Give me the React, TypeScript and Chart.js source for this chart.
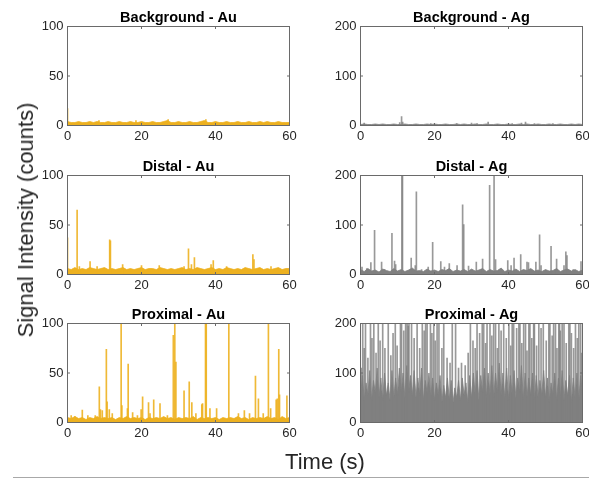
import React, { useEffect, useRef } from "react";
import { Chart, registerables } from "chart.js";

Chart.register(...registerables);

// ---------- data ----------
const timeTicks = [0, 20, 40, 60];
const auTicks = [0, 50, 100];
const agTicks = [0, 100, 200];

// baseline noise envelopes (one value per band step, starting at t = 0)
const bgAuBand = [4, 3, 3, 4, 3, 3, 4, 3, 4, 3, 3, 4, 3, 3, 4, 3, 3, 4, 3, 3, 4, 3, 3, 4, 3, 3, 4, 5, 3, 3, 4, 3, 3, 4, 3, 3, 4, 5, 3, 3, 4, 3, 3, 4, 3, 3, 4, 3, 3, 4, 3, 3, 4, 3, 4, 3, 3, 4, 3, 3, 3];
const bgAgBand = [2, 3, 2, 2, 3, 2, 3, 2, 2, 3, 2, 2, 3, 2, 2, 3, 2, 2, 3, 2, 3, 2, 2, 3, 2, 2, 3, 2, 3, 2, 2, 3, 2, 2, 3, 2, 2, 3, 2, 2, 3, 2, 2, 3, 2, 3, 2, 2, 3, 2, 2, 3, 2, 2, 3, 2, 2, 3, 2, 3, 2];
const distalAuBand = [6, 5, 7, 5, 6, 5, 7, 6, 5, 6, 7, 5, 6, 5, 6, 7, 5, 6, 5, 6, 7, 5, 6, 6, 5, 7, 6, 5, 6, 5, 6, 7, 5, 6, 5, 7, 6, 5, 6, 7, 5, 6, 5, 7, 6, 5, 6, 5, 7, 6, 5, 6, 7, 5, 6, 5, 6, 7, 5, 6, 6];
const distalAgBand = [10, 6, 12, 7, 9, 5, 11, 8, 6, 12, 7, 10, 6, 9, 13, 7, 8, 6, 11, 7, 9, 6, 10, 8, 12, 6, 9, 7, 10, 6, 11, 7, 9, 12, 6, 10, 7, 8, 13, 6, 9, 7, 11, 6, 10, 8, 12, 7, 9, 6, 10, 7, 8, 12, 6, 9, 11, 7, 10, 6, 9];
const proxAuBand = [5, 4, 6, 4, 5, 3, 5, 4, 6, 4, 5, 4, 5, 3, 5, 4, 6, 4, 5, 4, 5, 3, 5, 4, 5, 4, 6, 4, 5, 3, 5, 4, 5, 4, 6, 3, 5, 4, 5, 4, 5, 3, 5, 4, 5, 4, 6, 4, 5, 3, 5, 4, 5, 4, 6, 4, 5, 3, 6, 4, 5];
const proxAgBand = [
  50, 95, 45, 80, 55, 105, 45, 85, 60, 110,
  50, 90, 45, 100, 55, 80, 45, 105, 50, 90,
  55, 110, 60, 100, 50, 115, 60, 95, 55, 105,
  50, 90, 55, 110, 45, 85, 60, 100, 50, 90,
  45, 80, 55, 95, 40, 75, 50, 90, 45, 85,
  40, 70, 50, 85, 45, 90, 55, 80, 40, 95,
  50, 100, 55, 105, 45, 95, 60, 110, 50, 100,
  55, 115, 50, 100, 60, 120, 55, 100, 50, 110,
  45, 95, 55, 105, 50, 90, 60, 115, 45, 100,
  50, 90, 55, 100, 45, 95, 50, 85, 55, 105,
  50, 90, 40, 80, 55, 100, 45, 90, 50, 105,
  45, 85, 55, 95, 40, 90, 50, 100, 45, 95,
  55,
];

// spikes: [time (s), counts]
const bgAuSpikes = [[0, 17], [8.5, 5], [18.5, 5], [27.2, 6], [37.4, 6]];
const bgAgSpikes = [[1.0, 5], [10.6, 6], [11.1, 18], [11.4, 7], [19.0, 4], [26.0, 4], [30.0, 5], [31.5, 4], [34.5, 7], [41.0, 4], [43.5, 5], [44.6, 7], [47.0, 4], [52.0, 4]];
const distalAuSpikes = [[0, 37], [2.6, 65], [3.2, 8], [6.1, 13], [8.0, 8], [11.4, 35], [11.6, 34], [14.9, 10], [20.0, 9], [24.8, 9], [31.5, 8], [32.7, 26], [33.5, 10], [34.3, 17], [38.8, 10], [39.4, 14], [43.0, 8], [50.1, 20], [50.4, 15], [55.0, 8]];
const distalAgSpikes = [
  [0.4, 15], [1.7, 12], [2.8, 24], [3.8, 89], [5.7, 25], [6.5, 10], [8.5, 83], [9.2, 27], [9.5, 20],
  [11.2, 200], [11.35, 200], [13.7, 33], [14.8, 18], [15.1, 167], [16.5, 10], [18.3, 15], [19.5, 65],
  [21.7, 26], [22.7, 15], [24.0, 22], [26.1, 18], [27.6, 141], [27.9, 101], [29.2, 17], [31.3, 25],
  [33.0, 31], [34.9, 180], [36.1, 200], [36.5, 30], [39.8, 28], [40.7, 18], [41.5, 33], [43.3, 40],
  [45.0, 25], [45.4, 24], [47.4, 25], [48.4, 80], [48.8, 18], [51.5, 57], [53.0, 31], [55.0, 18],
  [55.5, 46], [55.8, 38], [57.5, 10], [59.6, 26],
];
const proxAuSpikes = [
  [1.0, 7], [2.0, 6], [4.0, 12.5], [5.5, 7], [7.5, 7], [8.6, 36], [8.9, 13], [9.4, 12], [10.5, 74],
  [10.7, 21], [11.3, 13], [12.1, 9], [14.5, 100], [14.7, 17], [16.2, 14], [16.4, 59], [17.6, 10],
  [18.9, 7], [19.9, 13], [20.3, 26], [21.9, 20], [22.3, 9], [23.3, 23], [25.0, 19], [27.0, 7],
  [28.6, 88], [29.0, 100], [29.3, 61], [31.5, 32], [32.9, 41], [33.6, 20], [34.7, 9], [36.3, 18],
  [36.5, 19], [37.3, 100], [37.5, 100], [38.5, 14], [40.3, 14], [43.6, 100], [46.2, 9], [47.8, 12],
  [49.2, 9], [50.8, 47], [51.6, 24], [52.9, 9], [54.3, 100], [54.9, 14], [56.4, 23], [56.7, 24],
  [57.1, 74], [57.3, 28], [59.3, 27],
];
const proxAgSpikes = [
  [0.6, 200], [1.35, 200], [2.7, 200], [3.6, 200], [4.8, 200], [6.0, 200], [7.5, 200], [9.4, 200],
  [10.8, 200], [11.1, 200], [12.2, 200], [12.6, 200], [13.1, 200], [13.8, 200], [15.3, 200], [16.7, 200],
  [17.6, 200], [18.0, 200], [18.9, 200], [19.8, 200], [20.7, 200], [21.2, 200], [22.5, 200], [24.8, 200],
  [25.7, 200], [29.7, 200], [31.5, 200], [32.9, 200], [33.3, 200], [34.2, 200], [35.0, 200], [36.0, 200],
  [36.5, 200], [37.4, 200], [38.7, 200], [40.1, 200], [41.0, 200], [41.4, 200], [42.8, 200], [43.1, 200],
  [44.1, 200], [44.6, 200], [45.5, 200], [45.8, 200], [46.8, 200], [47.0, 200], [48.2, 200], [49.4, 200],
  [50.9, 200], [51.2, 200], [52.2, 200], [52.7, 200], [53.6, 200], [53.8, 200], [54.5, 200], [55.0, 200],
  [56.3, 200], [56.6, 200], [58.1, 200], [59.0, 200], [59.5, 200],
  [0.2, 110], [1.0, 150], [2.0, 130], [3.1, 170], [4.2, 140], [5.3, 165], [6.6, 150], [8.2, 135],
  [8.8, 180], [9.9, 155], [11.7, 185], [12.9, 195], [14.5, 170], [16.0, 150], [17.2, 185], [19.3, 180],
  [20.2, 165], [22.0, 150], [23.4, 130], [24.2, 120], [26.5, 110], [27.3, 120], [28.3, 115], [29.1, 140],
  [30.4, 165], [31.0, 150], [32.2, 180], [33.8, 160], [35.5, 175], [37.0, 150], [38.0, 185], [39.4, 170],
  [40.6, 155], [42.2, 190], [43.6, 160], [45.0, 145], [46.3, 170], [47.6, 155], [48.8, 190], [50.2, 165],
  [51.8, 175], [53.1, 150], [54.0, 185], [55.6, 160], [57.0, 180], [57.6, 150], [58.6, 170], [59.8, 140],
];

// ---------- styles ----------
const AU = "#EDB120";
const AG = "#808080";
const AU_SPIKE = "rgba(237,177,32,0.9)";
const AG_SPIKE = "rgba(128,128,128,0.8)";
const FONT = '"Liberation Sans", Arial, Helvetica, sans-serif';
const TEXT = "#262626";

const panels = [
  { title: "Background - Au", band: bgAuBand, step: 1, spikes: bgAuSpikes, yMax: 100, yTicks: auTicks, color: AU, spikeColor: AU_SPIKE, left: 0, top: 0 },
  { title: "Background - Ag", band: bgAgBand, step: 1, spikes: bgAgSpikes, yMax: 200, yTicks: agTicks, color: AG, spikeColor: AG_SPIKE, left: 293, top: 0 },
  { title: "Distal - Au", band: distalAuBand, step: 1, spikes: distalAuSpikes, yMax: 100, yTicks: auTicks, color: AU, spikeColor: AU_SPIKE, left: 0, top: 149 },
  { title: "Distal - Ag", band: distalAgBand, step: 1, spikes: distalAgSpikes, yMax: 200, yTicks: agTicks, color: AG, spikeColor: AG_SPIKE, left: 293, top: 149 },
  { title: "Proximal - Au", band: proxAuBand, step: 1, spikes: proxAuSpikes, yMax: 100, yTicks: auTicks, color: AU, spikeColor: AU_SPIKE, left: 0, top: 297 },
  { title: "Proximal - Ag", band: proxAgBand, step: 0.5, spikes: proxAgSpikes, yMax: 200, yTicks: agTicks, color: AG, spikeColor: AG_SPIKE, left: 293, top: 297 },
];

function Panel(p: any) {
  const ref = useRef<HTMLCanvasElement | null>(null);
  useEffect(() => {
    if (!ref.current) return;
    const framePlugin = {
      id: "frame",
      afterDraw(chart: any) {
        const { ctx, chartArea: a } = chart;
        const xs = chart.scales.x;
        const ys = chart.scales.y;
        ctx.save();
        ctx.strokeStyle = "#6a6a6a";
        ctx.lineWidth = 1;
        ctx.strokeRect(a.left, a.top, a.right - a.left, a.bottom - a.top);
        ctx.beginPath();
        const tl = 2.5;
        timeTicks.forEach((v) => {
          const px = xs.getPixelForValue(v);
          ctx.moveTo(px, a.bottom);
          ctx.lineTo(px, a.bottom - tl);
          ctx.moveTo(px, a.top);
          ctx.lineTo(px, a.top + tl);
        });
        p.yTicks.forEach((v: number) => {
          const py = ys.getPixelForValue(v);
          ctx.moveTo(a.left, py);
          ctx.lineTo(a.left + tl, py);
          ctx.moveTo(a.right, py);
          ctx.lineTo(a.right - tl, py);
        });
        ctx.stroke();
        ctx.fillStyle = "#000";
        ctx.font = `bold 14.5px ${FONT}`;
        ctx.textAlign = "center";
        ctx.textBaseline = "alphabetic";
        ctx.fillText(p.title, (a.left + a.right) / 2, a.top - 4.5);
        ctx.restore();
      },
    };
    const chart = new Chart(ref.current, {
      type: "bar",
      data: {
        datasets: [
          {
            type: "line",
            data: p.band.map((v: number, i: number) => ({ x: i * p.step, y: v })),
            fill: "origin",
            backgroundColor: p.color,
            borderColor: p.color,
            borderWidth: 0.8,
            pointRadius: 0,
            tension: 0,
            order: 2,
          } as any,
          {
            type: "bar",
            data: p.spikes.map((s: number[]) => ({ x: s[0], y: s[1] })),
            backgroundColor: p.spikeColor,
            barThickness: 1,
            grouped: false,
            order: 1,
          } as any,
        ],
      },
      options: {
        responsive: false,
        animation: false,
        devicePixelRatio: 1,
        events: [],
        layout: { padding: { left: 0, right: 10.5, top: 26.5, bottom: 0 } },
        plugins: { legend: { display: false }, tooltip: { enabled: false }, title: { display: false } },
        scales: {
          x: {
            type: "linear",
            min: 0,
            max: 60,
            offset: false,
            grid: { display: false, drawTicks: false },
            border: { display: false },
            ticks: { color: TEXT, font: { family: FONT, size: 13 }, padding: 3, maxRotation: 0, autoSkip: false },
            afterBuildTicks: (s: any) => {
              s.ticks = timeTicks.map((v) => ({ value: v }));
            },
            afterFit: (s: any) => {
              s.height = 24.5;
            },
          },
          y: {
            type: "linear",
            min: 0,
            max: p.yMax,
            grid: { display: false, drawTicks: false },
            border: { display: false },
            ticks: { color: TEXT, font: { family: FONT, size: 13 }, padding: 4 },
            afterBuildTicks: (s: any) => {
              s.ticks = p.yTicks.map((v: number) => ({ value: v }));
            },
            afterFit: (s: any) => {
              s.width = 67.5;
            },
          },
        },
      } as any,
      plugins: [framePlugin],
    });
    return () => chart.destroy();
  }, []);
  return (
    <canvas
      ref={ref}
      width={300}
      height={150}
      style={{ position: "absolute", left: p.left, top: p.top, width: 300, height: 150 }}
    />
  );
}

export default function App() {
  return (
    <div style={{ position: "absolute", left: 0, top: 0, width: 589, height: 478, overflow: "hidden", background: "#fff" }}>
      {panels.map((p) => (
        <Panel key={p.title} {...p} />
      ))}
      <div
        style={{
          position: "absolute",
          left: 26,
          top: 220,
          transform: "translate(-50%, -50%) rotate(-90deg)",
          whiteSpace: "nowrap",
          font: `22px ${FONT}`,
          lineHeight: "22px",
          color: TEXT,
        }}
      >
        Signal Intensity (counts)
      </div>
      <div
        style={{
          position: "absolute",
          left: 325,
          top: 451,
          transform: "translateX(-50%)",
          whiteSpace: "nowrap",
          font: `22px ${FONT}`,
          lineHeight: "22px",
          color: TEXT,
        }}
      >
        Time (s)
      </div>
      <div style={{ position: "absolute", left: 13, top: 477, width: 576, height: 1, background: "#a8a8a8" }} />
    </div>
  );
}
